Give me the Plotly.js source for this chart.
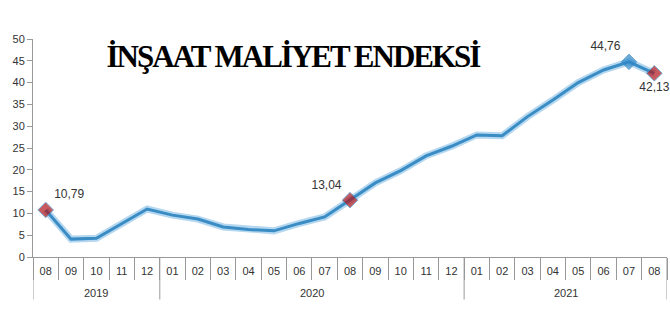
<!DOCTYPE html>
<html><head><meta charset="utf-8">
<script src="https://cdn.plot.ly/plotly-3.0.1.min.js"></script>
<style>body{margin:0;background:#fff}#c{width:670px;height:310px}
.gtitle{letter-spacing:-2px}</style>
</head><body><div id="c"></div>
<script>
const years = ["2019","2019","2019","2019","2019",
  "2020","2020","2020","2020","2020","2020","2020","2020","2020","2020","2020","2020",
  "2021","2021","2021","2021","2021","2021","2021","2021"];
const months = ["08","09","10","11","12",
  "01","02","03","04","05","06","07","08","09","10","11","12",
  "01","02","03","04","05","06","07","08"];
const values = [10.79,4.1,4.3,7.6,11.0,
  9.6,8.7,6.9,6.3,6.0,7.7,9.2,13.04,17.0,19.8,23.2,25.4,
  28.0,27.8,32.2,36.0,40.0,42.9,44.76,42.13];
const labelIdx = [0,12,23,24];
const labelPos = {0:"top right",12:"top left",23:"top left",24:"bottom center"};
const markerColor = {0:"#b0151b",12:"#b0151b",23:"#2f87c8",24:"#b0151b"};

const idx = values.map((v,i)=>i);
const text = values.map((v,i)=>labelIdx.includes(i)? v.toFixed(2).replace('.',',') : '');
const tpos = values.map((v,i)=>labelPos[i]||"top center");
const msize = values.map((v,i)=>labelIdx.includes(i)?12:0);
const mcol = values.map((v,i)=>markerColor[i]||"#2f87c8");

// year groups
const groups = [];
years.forEach((y,i)=>{
  if(!groups.length || groups[groups.length-1].y!==y) groups.push({y:y,start:i,end:i});
  else groups[groups.length-1].end=i;
});
const annotations = groups.map(g=>({x:(g.start+g.end)/2,y:-0.165,xref:'x',yref:'paper',text:g.y,showarrow:false,
  font:{family:'Liberation Sans, Arial',size:11,color:'#333'},yanchor:'middle'}));
const bounds = [groups[0].start-0.5].concat(groups.map(g=>g.end+0.5));
const shapes = bounds.map(b=>({type:'line',xref:'x',yref:'paper',x0:b,x1:b,y0:0,y1:-0.195,line:{color:'#999',width:1}}));

const traces = [
 {x:idx,y:values,type:'scatter',mode:'lines',line:{color:'#b5d8f0',width:7},hoverinfo:'skip',showlegend:false},
 {x:idx,y:values,type:'scatter',mode:'lines+markers+text',line:{color:'#3a8cc4',width:3},
  marker:{symbol:'diamond',size:msize,color:mcol},
  text:text,textposition:tpos,textfont:{family:'Liberation Sans, Arial',size:12,color:'#333'},
  cliponaxis:false,showlegend:false}
];
const layout = {
 width:670,height:310,
 margin:{l:33,r:3,t:39,b:53},
 paper_bgcolor:'#fff',plot_bgcolor:'#fff',
 font:{family:'Liberation Sans, Arial',size:11,color:'#333'},
 title:{text:'<b>İNŞAAT MALİYET ENDEKSİ</b>',font:{family:'Liberation Serif, DejaVu Serif',size:31,color:'#000'},
   x:0.41,xanchor:'center',y:0.92,yanchor:'middle',xref:'paper',yref:'paper'},
 xaxis:{range:[-0.5,values.length-0.5],tickmode:'array',tickvals:idx,ticktext:months,ticks:'',
   showline:true,linecolor:'#999',showgrid:false,zeroline:false,ticklabelstandoff:4,
   minor:{tickmode:'linear',tick0:-0.5,dtick:1,ticks:'outside',ticklen:22,tickcolor:'#999',showgrid:false},
   tickfont:{size:11,color:'#333'}},
 yaxis:{range:[0,50],dtick:5,showline:true,linecolor:'#999',ticks:'outside',tickcolor:'#999',ticklen:5,
   showgrid:false,zeroline:false,tickfont:{size:11,color:'#333'}},
 annotations:annotations,shapes:shapes
};
Plotly.newPlot('c',traces,layout,{displayModeBar:false});
</script></body></html>
